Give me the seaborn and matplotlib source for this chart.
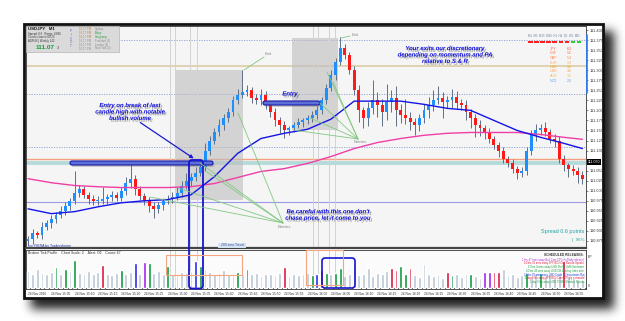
import numpy as np
import pandas as pd
import matplotlib
matplotlib.use("Agg")
import matplotlib.pyplot as plt
import matplotlib.patheffects as pe
from matplotlib.patches import Rectangle, FancyBboxPatch, FancyArrowPatch
import seaborn as sns

# USDJPY M1
first_open = 110.875
closes = [110.880, 110.895, 110.890, 110.910, 110.920, 110.930, 110.940, 110.950, 110.963, 110.975,
          110.995, 111.005, 110.990, 110.980, 110.975,
          110.975, 110.980, 110.985, 110.990, 110.983,
          111.000, 111.020, 111.030, 111.005,
          110.988, 110.975, 110.963, 110.955, 110.965,
          110.975, 110.980, 110.985, 110.995,
          111.013, 111.025, 111.035, 111.045,
          111.060,
          111.100, 111.125, 111.145, 111.163, 111.180, 111.195, 111.225, 111.238, 111.245,
          111.250, 111.230, 111.225, 111.238,
          111.213, 111.195, 111.175, 111.163, 111.150, 111.155,
          111.163, 111.170, 111.175, 111.180, 111.188, 111.200,
          111.225, 111.255, 111.288, 111.320, 111.355, 111.338,
          111.300, 111.250, 111.200, 111.180,
          111.205, 111.225, 111.213, 111.195, 111.220, 111.230, 111.200, 111.188,
          111.180, 111.170, 111.163, 111.180, 111.200,
          111.213, 111.225, 111.230, 111.220, 111.225, 111.233, 111.218,
          111.213, 111.195, 111.180, 111.163, 111.155,
          111.145, 111.130, 111.113, 111.100, 111.080, 111.070,
          111.055, 111.045, 111.050,
          111.100, 111.138, 111.150, 111.155,
          111.145, 111.130, 111.125,
          111.080, 111.063, 111.055, 111.050,
          111.038, 111.030]
# wick lengths in points (0.001)
wick_up = [8, 10, 6, 12, 8, 10, 6, 12, 10, 8,
           55, 10, 8, 6, 10, 12, 30, 8, 10, 6,
           10, 15, 38, 10, 8, 6, 10, 8, 6, 8,
           10, 12, 15, 12, 20, 10, 15, 10, 20, 12,
           10, 15, 10, 12, 10, 15, 55, 12, 8, 10,
           15, 10, 8, 12, 8, 10, 6, 8, 10, 6,
           8, 10, 12, 8, 10, 12, 10, 28, 10, 8,
           10, 12, 8, 15, 50, 20, 15, 45, 20, 30,
           15, 40, 15, 10, 12, 15, 20, 25, 30, 15,
           12, 20, 15, 10, 12, 8, 10, 12, 8, 10,
           6, 8, 10, 6, 8, 6, 10, 10, 12, 15,
           12, 15, 8, 10, 10, 8, 6, 8, 10, 12]
wick_dn = [10, 12, 8, 10, 8, 12, 10, 8, 10, 12,
           8, 10, 8, 12, 10, 10, 8, 12, 10, 8,
           8, 10, 12, 15, 12, 10, 15, 22, 10, 12,
           8, 10, 8, 10, 8, 12, 10, 8, 10, 12,
           8, 10, 12, 8, 10, 10, 8, 10, 12, 8,
           12, 10, 12, 15, 20, 18, 12, 10, 8, 12,
           10, 8, 10, 8, 10, 8, 12, 8, 10, 10,
           12, 30, 25, 20, 15, 30, 35, 20, 25, 40,
           20, 15, 20, 25, 15, 12, 20, 15, 10, 40,
           15, 20, 15, 12, 20, 25, 30, 20, 15, 12,
           10, 15, 12, 10, 12, 15, 10, 12, 10, 15,
           12, 10, 12, 15, 12, 15, 20, 10, 18, 12]
volumes = [90, 75, 100, 80, 70, 85, 110, 75, 100, 90,
           145, 80, 70, 90, 75, 85, 120, 75, 65, 80,
           95, 70, 85, 130, 75, 135, 130, 80, 90, 70,
           115, 75, 65, 85, 80, 90, 140, 115, 100, 85,
           70, 80, 95, 75, 65, 85, 75, 100, 70, 80,
           60, 70, 75, 65, 80, 110, 60, 70, 65, 75,
           80, 65, 75, 95, 80, 70, 80, 105, 60, 70,
           125, 65, 75, 105, 60, 80, 70, 90, 105, 95,
           115, 70, 105, 65, 55, 125, 75, 60, 70, 50,
           85, 65, 75, 55, 70, 75, 60, 50, 85, 85,
           85, 85, 100, 65, 75, 55, 65, 80, 60, 70,
           80, 60, 75, 50, 65, 140, 60, 50, 45, 40]
# n = normal, g = green, r = red, b = blue, p = purple
vol_flags = ("nnnnnngngn" "gnnnnnrnnn" "gnnbnpgnnn" "gnnnnnbgnn"
             "nnnnngnrnn" "nnnnnrnnnn" "ngbrgnggnn" "nnnnnnnnrr"
             "ggrnnnnnnn" "rgnnngnnpp" "rrnnnnngnn" "gnnnnrnnnn")

ma_idx = [0, 5, 10, 15, 20, 25, 30, 35, 40, 45, 50, 55, 60, 65, 70, 75, 80, 85, 90, 95,
          100, 105, 110, 115, 119]
ma_fast = [110.955, 110.943, 110.948, 110.960, 110.970, 110.975, 110.978, 110.990, 111.035,
           111.093, 111.130, 111.143, 111.153, 111.178, 111.223, 111.223, 111.223, 111.215,
           111.205, 111.200, 111.175, 111.150, 111.133, 111.118, 111.105]
ma_200 = [111.030, 111.020, 111.013, 111.010, 111.008, 111.008, 111.008, 111.010, 111.018,
          111.033, 111.048, 111.055, 111.068, 111.085, 111.105, 111.120, 111.130, 111.138,
          111.143, 111.145, 111.145, 111.145, 111.140, 111.133, 111.128]

levels_dotted = [111.375, 111.240, 111.108]
level_tan = 111.310
level_orange = 111.080
level_teal = 111.070
level_support = 110.973
current_price = "111.070"

price_ticks = [110.875, 110.900, 110.925, 110.950, 110.975, 111.000, 111.025, 111.050,
               111.100, 111.125, 111.150, 111.175, 111.200, 111.225, 111.250,
               111.275, 111.300, 111.325, 111.350, 111.375, 111.400]
date_ticks = [0, 5, 10, 15, 20, 25, 30, 35, 40, 45, 50, 55, 60, 65, 70, 75, 80, 85, 90, 95,
              100, 105, 110, 115]
date_labels = ["24 Nov 2016", "24 Nov 15:05", "24 Nov 15:10", "24 Nov 15:15", "24 Nov 15:20",
               "24 Nov 15:25", "24 Nov 15:30", "24 Nov 15:35", "24 Nov 15:40", "24 Nov 15:45",
               "24 Nov 15:50", "24 Nov 15:55", "24 Nov 16:00", "24 Nov 16:05", "24 Nov 16:10",
               "24 Nov 16:15", "24 Nov 16:20", "24 Nov 16:25", "24 Nov 16:30", "24 Nov 16:35",
               "24 Nov 16:40", "24 Nov 16:45", "24 Nov 16:50", "24 Nov 16:55"]

currencies = ["JPY", "CHF", "GBP", "EUR", "CAD", "USD", "AUD", "NZD"]
strength = [6.3, 5.6, 5.4, 5.0, 4.4, 3.6, 3.1, 2.0]
cur_colors = ["#ff5a3c", "#ff7a5a", "#ff8a5a", "#ffb07a", "#e8b030", "#ffa060", "#f0c060", "#70a8e0"]
timeframes = ["M1", "M5", "M15", "M30", "H1", "H4", "D1", "W1", "MN"]
tf_signal = ["r", "r", "r", "r", "r", "r", "r", "g", "g"]

sessions = ["Sydney", "Tokyo", "Hongkong", "Frankfurt (9)", "London (8)", "New York (3)"]
session_open = [False, True, True, False, False, False]

releases = [("1 hrs 47 mins away BoJ Core CPI y/y (Early release)", "#b030d0"),
            ("14 hrs 30 mins away JPY BOJ Gov Kuroda Speaks", "#e0203c"),
            ("17 hrs 4 mins away USD Prelim UoM Sentiment", "#20a040"),
            ("20 hrs 43 mins away USD CB Leading Index m/m", "#20a040"),
            ("22 hrs 58 mins away USD Crude Oil Inventories Rpt", "#2040e0"),
            ("1 day 5 hrs away JPY BOJ Core CPI y/y estimated", "#e0203c"),
            ("1 day 9 hrs away USD FOMC Member Speaks", "#20a040")]

# ---- build frame ----
opens = [first_open] + closes[:-1]
df = pd.DataFrame({"idx": np.arange(len(closes)), "open": opens, "close": closes,
                   "up": wick_up, "dn": wick_dn, "volume": volumes, "flag": list(vol_flags)})
df["top"] = df[["open", "close"]].max(axis=1)
df["bot"] = df[["open", "close"]].min(axis=1)
df["high"] = df["top"] + df["up"] / 1000
df["low"] = df["bot"] - df["dn"] / 1000
df["bull"] = df["close"] >= df["open"]

sns.set_theme(style="white")
plt.rcParams['font.family'] = ['Liberation Sans', 'DejaVu Sans']

W, H = 625, 321
fig = plt.figure(figsize=(6.25, 3.21), dpi=100)


def fbox(x0, y0, x1, y1):
    return [x0 / W, 1 - y1 / H, (x1 - x0) / W, (y1 - y0) / H]


# background: drop shadow + window frame
bg = fig.add_axes([0, 0, 1, 1], zorder=-5)
yy, xx = np.mgrid[0:H, 0:W]
mask = ((xx >= 31) & (xx <= 613) & (yy >= 31) & (yy <= 308)).astype(float)
k = np.arange(-15, 16)
g = np.exp(-k ** 2 / (2 * 5.0 ** 2))
g /= g.sum()
blur = np.apply_along_axis(lambda r: np.convolve(r, g, mode='same'), 1, mask)
blur = np.apply_along_axis(lambda c: np.convolve(c, g, mode='same'), 0, blur)
rgba = np.zeros((H, W, 4))
rgba[..., :3] = 0.05
rgba[..., 3] = 0.92 * blur
bg.imshow(rgba, extent=(0, W, H, 0), aspect='auto', interpolation='bilinear')
bg.add_patch(Rectangle((24, 24), 579, 274, facecolor='white', edgecolor='#111111', lw=2))
bg.set_xlim(0, W)
bg.set_ylim(H, 0)
bg.axis('off')

ax = fig.add_axes(fbox(26, 26, 586, 248))
axv = fig.add_axes(fbox(26, 250, 586, 289))
ov = fig.add_axes([0, 0, 1, 1], zorder=10)
ov.set_xlim(0, W)
ov.set_ylim(H, 0)
ov.axis('off')

xlim = (-0.43, 119.76)

# ---- price panel ----
ax.set_facecolor('#f5f5f5')
for lv in levels_dotted:
    ax.axhline(lv, color='#8f9fd6', lw=0.6, ls=(0, (1.5, 1.5)), zorder=1)
ax.axhline(level_tan, color='#d9c9a0', lw=1.1, zorder=1)
ax.axhline(level_orange, color='#f4a080', lw=1.0, zorder=1)
ax.axhline(level_teal, color='#b5dada', lw=2.8, zorder=1)
ax.axhline(level_support, color='#9a9ae6', lw=0.8, zorder=1)

# grey trade boxes (pixel coordinates of the screenshot)
ax.add_patch(Rectangle((175, 70), 68, 130, transform=ov.transData, fc='#bdbdbd',
                       alpha=0.6, lw=0, zorder=1.5))
ax.add_patch(Rectangle((292, 38), 46, 92, transform=ov.transData, fc='#bdbdbd',
                       alpha=0.6, lw=0, zorder=1.5))
for xv in [170, 175, 190, 197, 313, 318, 329, 335]:
    for a, (y0, y1) in [(ax, (26, 248)), (axv, (250, 289))]:
        a.plot([xv, xv], [y0, y1], transform=ov.transData, color='#d2d2d2', lw=0.7, zorder=1.6)

ax.vlines(df["idx"], df["low"], df["high"], color='#5f6f86', lw=0.7, zorder=3)
body_h = (df["top"] - df["bot"]).clip(lower=0.0012)
ax.bar(df["idx"], body_h, bottom=df["bot"], width=0.62,
       color=np.where(df["bull"], '#1e8fff', '#ff1a1a'), lw=0, zorder=4)

sns.lineplot(x=ma_idx, y=ma_200, ax=ax, color='#ee3fa6', lw=1.0, zorder=5)
sns.lineplot(x=ma_idx, y=ma_fast, ax=ax, color='#1414e6', lw=1.0, zorder=5)

ax.set_xlim(*xlim)
ax.set_ylim(110.8575, 111.41)
ax.yaxis.tick_right()
ax.set_yticks(price_ticks)
ax.set_yticklabels([f"{t:.3f}" for t in price_ticks])
ax.tick_params(axis='y', length=1.5, width=0.4, pad=1, labelsize=2.8, colors='#333333')
ax.set_xticks([])
ax.set_xlabel('')
ax.set_ylabel('')
for s in ax.spines.values():
    s.set_color('#333333')
    s.set_linewidth(0.6)
ax.spines['bottom'].set_linewidth(1.6)
ax.spines['bottom'].set_color('#444444')

# ---- volume panel ----
axv.set_facecolor('#fbfbfb')
pal = {'n': '#b9c6d4', 'g': '#0a9a3c', 'r': '#dc143c', 'b': '#2828f0', 'p': '#a020f0'}
sns.barplot(data=df, x="idx", y="volume", hue="flag", palette=pal, native_scale=True,
            dodge=False, width=0.6, errorbar=None, saturation=1, legend=False, ax=axv, zorder=3)
axv.set_xlim(*xlim)
axv.set_ylim(-4, 195)
axv.set_yticks([])
axv.set_xticks(date_ticks)
axv.set_xticklabels(date_labels)
axv.tick_params(axis='x', length=1.2, width=0.4, pad=0.8, labelsize=2.3, colors='#333333')
for lab in axv.get_xticklabels():
    lab.set_ha('left')
axv.set_xlabel('')
axv.set_ylabel('')
for s in axv.spines.values():
    s.set_color('#333333')
    s.set_linewidth(0.6)
axv.spines['bottom'].set_linewidth(1.2)

# ---- overlay annotations (pixel coordinates) ----
blue = '#0c0cdc'
shadow = [pe.SimplePatchShadow(offset=(1.3, -1.3), shadow_rgbFace='#444444', alpha=0.45),
          pe.Normal()]
note = dict(color=blue, fontsize=4.3, fontweight='bold', fontstyle='italic', ha='center',
            va='center', path_effects=shadow, linespacing=1.35)

ov.text(130, 112, "Entry on break of last\ncandle high with notable\nbullish volume", **note)
ov.text(445, 55, "Your exits our discretionary\ndepending on momentum and PA\nrelative to S & R", **note)
ov.text(328, 215, "Be careful with this one don't\nchase price, let it come to you", **note)
ov.text(290, 94, "Entry", **note)

for (x0, y0, w) in [(70, 161, 143), (263, 101, 57)]:
    ov.add_patch(FancyBboxPatch((x0 + 1.5, y0 + 2), w, 4, boxstyle='round,pad=0,rounding_size=2',
                                fc='#777777', ec='none', alpha=0.35))
    ov.add_patch(FancyBboxPatch((x0, y0), w, 4, boxstyle='round,pad=0,rounding_size=2',
                                fc='#5c70d8', ec='#1a1aa8', lw=0.8))

ov.add_patch(FancyArrowPatch((138, 121), (196, 160), arrowstyle='-|>', mutation_scale=5,
                             color='#1a1ad0', lw=0.9))
ov.add_patch(FancyBboxPatch((189, 160), 14, 128.5, boxstyle='round,pad=0,rounding_size=3',
                            fill=False, ec='#1515d0', lw=1.3))
ov.add_patch(FancyBboxPatch((322, 258), 33, 30, boxstyle='round,pad=0,rounding_size=3',
                            fill=False, ec='#1515d0', lw=1.2))
ov.add_patch(Rectangle((166, 255), 76, 20, fill=False, ec='#f4a582', lw=0.8))
ov.add_patch(Rectangle((306, 250), 37, 35, fill=False, ec='#f4a582', lw=0.8))

green = '#82c882'
lab = dict(color='#8a8a8a', fontsize=3.2, ha='center', va='center')
ov.text(268, 54, "Exit", **lab)
ov.plot([264, 244], [57, 70], color=green, lw=0.6)
ov.text(355, 35, "Exit", **lab)
ov.plot([350, 341], [36, 38], color=green, lw=0.6)
ov.text(360, 142, "Entries", **lab)
for tx, ty in [(327, 72), (333, 82), (320, 103), (310, 118), (293, 130)]:
    ov.plot([358, tx], [139, ty], color=green, lw=0.6)
ov.text(284, 227, "Entries", **lab)
for tx, ty in [(200, 163), (204, 170), (178, 188), (238, 113), (150, 197)]:
    ov.plot([283, tx], [223, ty], color=green, lw=0.6)

# small chart labels
ov.text(27, 245.5, "free FIBRA by Tradersheme", color='#2030a0', fontsize=2.5, va='center')
ov.add_patch(Rectangle((218, 243), 28, 5, fc='#d6e4f2', ec='none'))
ov.text(232, 245.5, "200 sma Trend", color='#4050a0', fontsize=2.4, ha='center', va='center')
ov.text(28, 253.5, "Broken Tick Profile    Chart Scale: 2    Alert: Off    Count: 67",
        color='#333333', fontsize=2.5, va='center')
ov.text(584, 232, "Spread 0.6 points", color='#22a3a3', fontsize=4.0, ha='right', va='center')
ov.text(584, 239.5, "|  96%", color='#22a3a3', fontsize=3.2, ha='right', va='center')
ov.text(563, 239.5, "· · · · · ·", color='#b8dede', fontsize=2.5, ha='right', va='center')
ov.text(587.5, 162, current_price, color='white', fontsize=2.6, va='center',
        bbox=dict(fc='black', ec='none', pad=0.4))
ov.plot([586.5, 586.5], [35, 93], color='#2a7fff', lw=1.2)
ov.text(588, 257, "EP", color='#333333', fontsize=2.5, va='center')
ov.text(588, 286, "0", color='#333333', fontsize=2.5, va='center')

ov.text(584, 255.5, "SCHEDULED RELEASES:", color='#333333', fontsize=2.3, ha='right',
        va='center', fontweight='bold')
for j, (txt, col) in enumerate(releases):
    ov.text(584, 259.5 + j * 3.8, txt, color=col, fontsize=1.9, ha='right', va='center')

# info box top-left
ov.add_patch(Rectangle((26, 26), 93, 26, fc='#dadada', ec='#b5b5b5', lw=0.5))
ov.text(28, 29.5, "USDJPY   M1", color='#111111', fontsize=3.2, fontweight='bold', va='center')
ov.text(28, 33.5, "Spread: 0.6   Range: 48/66", color='#333333', fontsize=2.0, va='center')
ov.text(28, 37.2, "Candle close in 00:23", color='#333333', fontsize=2.0, va='center')
ov.text(28, 40.9, "ADR 66 | Weekly 142", color='#333333', fontsize=2.0, va='center')
ov.text(36, 47.5, "111.07", color='#1a9a3a', fontsize=4.6, fontweight='bold', va='center')
ov.text(57, 48, "3", color='#444444', fontsize=2.8, va='center')
ov.text(71, 38.5, "P\nI\nV\nO\nT", color='#6060c0', fontsize=2.2, ha='center', va='center',
        linespacing=0.95)
for j, name in enumerate(sessions):
    y = 29 + j * 3.9
    ov.text(79, y, "10:17 PM", color='#c08040' if j < 3 else '#909090', fontsize=2.0, va='center')
    ov.text(95, y, name, color='#20a040' if session_open[j] else '#8a8a8a', fontsize=2.0,
            va='center')

# currency strength
ov.text(528, 36, "  ".join(timeframes), color='#7080a0', fontsize=2.1, va='center')
for j, sig in enumerate(tf_signal):
    ov.add_patch(Rectangle((528 + j * 6.1, 41), 4.6, 2, fc='#ff2020' if sig == 'r' else '#30d030',
                           ec='none'))
for j, (c, v) in enumerate(zip(currencies, strength)):
    y = 49 + j * 4.5
    ov.text(557, y, c, color=cur_colors[j], fontsize=2.6, ha='right', va='center')
    ov.text(567, y, f"{v:.1f}", color=cur_colors[j], fontsize=2.6, ha='left', va='center')

fig.savefig('out.png', dpi=100)
